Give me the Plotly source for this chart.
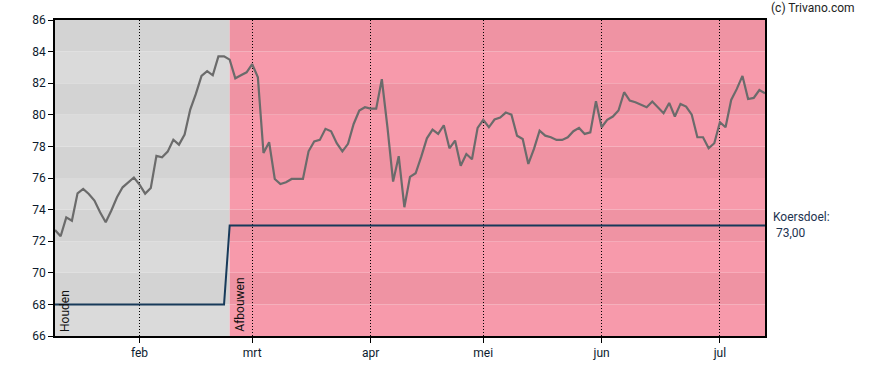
import pandas as pd
import plotly.graph_objects as go

# ---- data ----
holidays = ["2025-04-18", "2025-04-21", "2025-05-01"]
dates = [d for d in pd.bdate_range("2025-01-13", "2025-07-11") if d.strftime("%Y-%m-%d") not in holidays]

price = [
    72.71, 72.31, 73.51, 73.30, 75.03, 75.31, 74.99, 74.57, 73.83, 73.20,
    73.94, 74.78, 75.41, 75.73, 76.03, 75.58, 75.01, 75.37, 77.40, 77.31,
    77.67, 78.42, 78.11, 78.75, 80.33, 81.32, 82.46, 82.76, 82.50, 83.70,
    83.70, 83.49, 82.31, 82.50, 82.69, 83.20, 82.38, 77.59, 78.26, 75.94,
    75.62, 75.73, 75.94, 75.94, 75.94, 77.69, 78.32, 78.41, 79.11, 78.96,
    78.20, 77.69, 78.16, 79.42, 80.27, 80.48, 80.39, 80.39, 82.25, 79.21,
    75.77, 77.38, 74.15, 76.07, 76.30, 77.35, 78.51, 79.06, 78.79, 79.34,
    77.88, 78.37, 76.78, 77.52, 77.19, 79.17, 79.68, 79.21, 79.70, 79.82,
    80.14, 80.01, 78.68, 78.47, 76.89, 77.84, 79.00, 78.68, 78.58, 78.41,
    78.41, 78.58, 78.96, 79.17, 78.79, 78.89, 80.86, 79.21, 79.68, 79.89,
    80.27, 81.43, 80.90, 80.79, 80.62, 80.48, 80.84, 80.48, 80.10, 80.75,
    79.89, 80.69, 80.52, 80.01, 78.58, 78.58, 77.88, 78.20, 79.53, 79.21,
    80.94, 81.64, 82.46, 81.00, 81.07, 81.57, 81.36,
]

phase_labels = ["Houden", "Afbouwen"]
phase_start = ["2025-01-13", "2025-02-25"]
phase_target = [68.0, 73.0]

month_names = ["jan", "feb", "mrt", "apr", "mei", "jun", "jul"]
y_min, y_max, y_step = 66, 86, 2

# ---- derived ----
n = len(dates)
idx = list(range(n))
date_str = [d.strftime("%Y-%m-%d") for d in dates]
start_idx = [date_str.index(s) for s in phase_start]
target = []
for i in idx:
    t = phase_target[0]
    for k, s in enumerate(start_idx):
        if i >= s:
            t = phase_target[k]
    target.append(t)

tickvals, ticktext = [], []
for i in range(1, n):
    if dates[i].month != dates[i - 1].month:
        tickvals.append(i)
        ticktext.append(month_names[dates[i].month - 1])

fig = go.Figure()

# background bands
phase_cols = [("#d3d3d3", "#dadada"), ("#ef93a3", "#f79aab")]
bounds = start_idx + [n - 1]
for k in range(len(phase_labels)):
    x0, x1 = bounds[k], bounds[k + 1]
    for j, y0 in enumerate(range(y_min, y_max, y_step)):
        dark = ((y0 - y_min) // y_step) % 2 == 1
        fig.add_shape(type="rect", xref="x", yref="y", x0=x0, x1=x1, y0=y0, y1=y0 + y_step,
                      fillcolor=phase_cols[k][0] if dark else phase_cols[k][1],
                      line_width=0, layer="below")
    fig.add_annotation(x=x0, y=y_min, xref="x", yref="y", text=phase_labels[k],
                       textangle=-90, showarrow=False, xanchor="left", yanchor="bottom",
                       xshift=1, yshift=2, font=dict(family="Roboto", size=12, color="#111111"))

fig.add_trace(go.Scatter(x=idx, y=price, mode="lines",
                         line=dict(color="#6b6b6b", width=2.2), hoverinfo="skip"))
fig.add_trace(go.Scatter(x=idx, y=target, mode="lines",
                         line=dict(color="#173a5a", width=2), hoverinfo="skip"))

fig.add_annotation(xref="paper", yref="y", x=1, y=target[-1], xanchor="left", yanchor="middle",
                   xshift=6, align="left", showarrow=False,
                   text="Koersdoel:<br> " + f"{target[-1]:.2f}".replace(".", ","),
                   font=dict(family="Roboto", size=12, color="#1d3350"))
fig.add_annotation(xref="paper", yref="paper", x=1, y=1, xanchor="left", yanchor="bottom",
                   xshift=4, yshift=3, showarrow=False, text="(c) Trivano.com",
                   font=dict(family="Roboto", size=12, color="#222222"))

fig.update_layout(
    width=888, height=370,
    margin=dict(l=55, r=123, t=20, b=34, autoexpand=False),
    paper_bgcolor="white", plot_bgcolor="white",
    showlegend=False, hovermode=False,
    font=dict(family="Roboto", size=12, color="#1a1a1a"),
)
fig.update_xaxes(range=[0, n - 1], tickvals=tickvals, ticktext=ticktext, automargin=False,
                 showgrid=True, gridcolor="black", griddash="1px,2px", gridwidth=1,
                 ticks="outside", ticklen=5, tickcolor="black",
                 showline=True, linecolor="black", linewidth=1.5, mirror=True,
                 zeroline=False, tickfont=dict(size=12, color="#0d1b2e"))
fig.update_yaxes(range=[y_min, y_max], dtick=y_step, tick0=y_min, showgrid=False, automargin=False,
                 ticks="outside", ticklen=5, tickcolor="black",
                 showline=True, linecolor="black", linewidth=1.5, mirror=True,
                 zeroline=False, tickfont=dict(size=12, color="#0d1b2e"))

fig.write_html("out.html", config={"displayModeBar": False},
               post_script="document.body.style.margin='0';document.body.style.overflow='hidden';")
